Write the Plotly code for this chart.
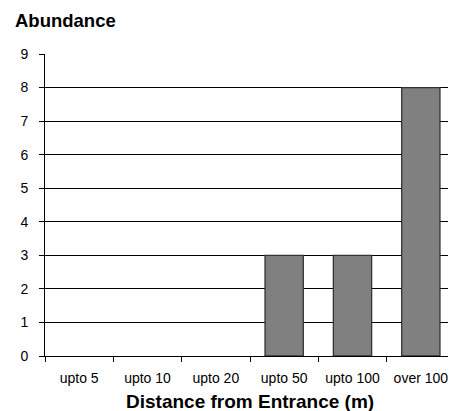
import plotly.graph_objects as go

categories = ["upto 5", "upto 10", "upto 20", "upto 50", "upto 100", "over 100"]
abundance = [0, 0, 0, 3, 3, 8]
y_ticks = [0, 1, 2, 3, 4, 5, 6, 7, 8, 9]

# page has an 8px body margin; plot area target (page px): x 45..455, y 54..356
L, T, PW, PH = 37, 46, 410, 302
W, H = 456, 411

fig = go.Figure()
fig.add_trace(go.Bar(
    x=categories, y=abundance,
    marker=dict(color="#808080",
                line=dict(color="#333333", width=[1.3 if v > 0 else 0 for v in abundance])),
    width=0.56,
))

fig.update_layout(
    width=W, height=H,
    margin=dict(l=L, r=W - L - PW, t=T, b=H - T - PH, autoexpand=False),
    paper_bgcolor="white", plot_bgcolor="white",
    font=dict(family="Liberation Sans, Arial, sans-serif", size=14, color="black"),
    showlegend=False,
)
fig.add_annotation(text="<b>Abundance</b>", xref="paper", yref="paper",
                   x=(5 - L) / PW, y=(T + PH - 12) / PH, xanchor="left", yanchor="middle",
                   showarrow=False, font=dict(size=18.5))
fig.add_annotation(text="<b>Distance from Entrance (m)</b>", xref="paper", yref="paper",
                   x=(242 - L) / PW, y=(T + PH - 393) / PH, xanchor="center", yanchor="middle",
                   showarrow=False, font=dict(size=19))

fig.update_xaxes(
    type="category", tickson="boundaries", ticks="outside", ticklen=5, tickwidth=1,
    tickcolor="black", showline=True, linecolor="black", linewidth=1,
    showgrid=False, tickfont=dict(size=14), automargin=False, ticklabelstandoff=9,
)
fig.update_yaxes(
    range=[0, 9], tickvals=y_ticks, ticktext=[f"{v}\u00a0\u00a0" for v in y_ticks],
    ticks="outside", ticklen=5, tickwidth=1, tickcolor="black",
    showline=True, linecolor="black", linewidth=1,
    showgrid=True, gridcolor="black", gridwidth=1, zeroline=False,
    tickfont=dict(size=14), automargin=False,
)

fig.write_html("out.html")
